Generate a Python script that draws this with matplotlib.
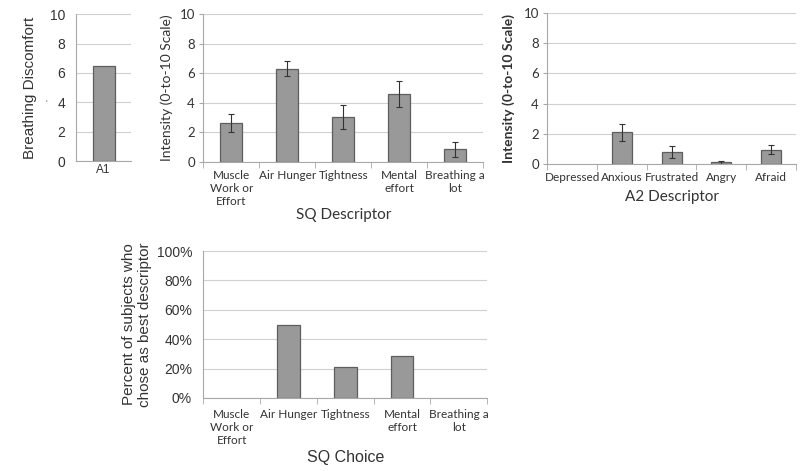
import matplotlib
matplotlib.use("Agg")
import matplotlib.pyplot as plt
from matplotlib.ticker import FuncFormatter

# ---- data ----
a1_cats = ["A1"]
a1_vals = [6.5]

sq_cats = ["Muscle\nWork or\nEffort", "Air Hunger", "Tightness", "Mental\neffort", "Breathing a\nlot"]
sq_vals = [2.65, 6.3, 3.05, 4.6, 0.85]
sq_errs = [0.6, 0.5, 0.8, 0.9, 0.5]

a2_cats = ["Depressed", "Anxious", "Frustrated", "Angry", "Afraid"]
a2_vals = [0.0, 2.1, 0.8, 0.12, 0.95]
a2_errs = [0.0, 0.55, 0.42, 0.1, 0.3]

choice_cats = sq_cats
choice_vals = [0.0, 50.0, 21.4, 28.6, 0.0]

intensity_ticks = [0, 2, 4, 6, 8, 10]
pct_ticks = [0, 20, 40, 60, 80, 100]

# ---- style ----
BAR = "#999999"
EDGE = "#5e5e5e"
GRID = "#d0d0d0"
SPINE = "#a8a8a8"
TXT = "#333333"
ARIAL = "Liberation Sans"
CAL = "Lato"

fig = plt.figure(figsize=(8.0, 4.71), dpi=100)


def base(ax, ticks, fontfam, tsize):
    ax.set_axisbelow(True)
    for s in ["top", "right"]:
        ax.spines[s].set_visible(False)
    ax.spines["left"].set_color(SPINE)
    ax.spines["bottom"].set_color(SPINE)
    ax.spines["left"].set_linewidth(0.8)
    ax.spines["bottom"].set_linewidth(0.8)
    ax.set_yticks(ticks)
    ax.set_ylim(ticks[0], ticks[-1])
    ax.yaxis.grid(True, color=GRID, linewidth=0.8)
    ax.tick_params(axis="y", length=3, color=SPINE, labelsize=tsize, labelcolor=TXT, pad=3)
    for lab in ax.get_yticklabels():
        lab.set_fontfamily(fontfam)


def cat_ticks(ax, n, labels, fam, size, pad):
    ax.set_xlim(0, n)
    ax.set_xticks([i + 0.5 for i in range(n)])
    ax.set_xticklabels(labels, fontfamily=fam, fontsize=size, color=TXT, linespacing=1.2)
    ax.tick_params(axis="x", length=0, pad=pad)
    ax.set_xticks(list(range(n + 1)), minor=True)
    ax.tick_params(axis="x", which="minor", length=4, color=SPINE)


def bars(ax, vals, errs=None):
    x = [i + 0.5 for i in range(len(vals))]
    lw = [0.9 if v > 0 else 0 for v in vals]
    ax.bar(x, vals, width=0.4, color=BAR, edgecolor=EDGE, linewidth=lw)
    if errs is not None:
        xe = [xi for xi, e in zip(x, errs) if e > 0]
        ve = [v for v, e in zip(vals, errs) if e > 0]
        ee = [e for e in errs if e > 0]
        ax.errorbar(xe, ve, yerr=ee, fmt="none", ecolor="#333333", elinewidth=0.8,
                    capsize=2, capthick=0.8)


# Panel 1
ax1 = fig.add_axes([0.095, 0.658, 0.069, 0.312])
base(ax1, intensity_ticks, ARIAL, 10)
ax1.tick_params(axis="y", length=0, pad=8)
ax1.bar([0.5], a1_vals, width=0.4, color=BAR, edgecolor=EDGE, linewidth=0.9)
ax1.set_xlim(0, 1)
ax1.set_xticks([0.5])
ax1.set_xticklabels(a1_cats, fontfamily=ARIAL, fontsize=8.5, color=TXT)
ax1.tick_params(axis="x", length=0, pad=2)
ax1.set_ylabel("Breathing Discomfort", fontfamily=ARIAL, fontsize=11, color=TXT, labelpad=9)
fig.text(49 / 800, 1 - 100 / 471, "\u2019", rotation=90, fontsize=6, color=TXT,
         ha="center", va="center", fontfamily=ARIAL)

# Panel 2
ax2 = fig.add_axes([0.254, 0.656, 0.350, 0.314])
base(ax2, intensity_ticks, CAL, 9.5)
bars(ax2, sq_vals, sq_errs)
cat_ticks(ax2, len(sq_cats), sq_cats, CAL, 8.5, 6)
ax2.set_ylabel("Intensity (0-to-10 Scale)", fontfamily=CAL, fontsize=10, color=TXT, labelpad=5)
ax2.set_xlabel("SQ Descriptor", fontfamily=CAL, fontsize=11, color=TXT, labelpad=1)

# Panel 3
ax3 = fig.add_axes([0.684, 0.652, 0.311, 0.320])
base(ax3, intensity_ticks, CAL, 9.5)
bars(ax3, a2_vals, a2_errs)
cat_ticks(ax3, len(a2_cats), a2_cats, CAL, 8.5, 6)
ax3.set_ylabel("Intensity (0-to-10 Scale)", fontfamily=CAL, fontsize=10, fontweight="bold",
               color=TXT, labelpad=6)
ax3.set_xlabel("A2 Descriptor", fontfamily=CAL, fontsize=11, color=TXT, labelpad=5)

# Panel 4
ax4 = fig.add_axes([0.254, 0.155, 0.355, 0.312])
base(ax4, pct_ticks, ARIAL, 10)
ax4.yaxis.set_major_formatter(FuncFormatter(lambda v, p: f"{v:.0f}%"))
for lab in ax4.get_yticklabels():
    lab.set_fontfamily(ARIAL)
ax4.tick_params(axis="y", length=0, pad=8)
bars(ax4, choice_vals)
cat_ticks(ax4, len(choice_cats), choice_cats, CAL, 8.5, 8)
ax4.set_ylabel("Percent of subjects who\nchose as best descriptor", fontfamily=ARIAL,
               fontsize=11, color=TXT, labelpad=3, linespacing=1.25)
ax4.set_xlabel("SQ Choice", fontfamily=ARIAL, fontsize=11.5, color=TXT, labelpad=3)

fig.savefig("out.png", dpi=100, facecolor="white")
